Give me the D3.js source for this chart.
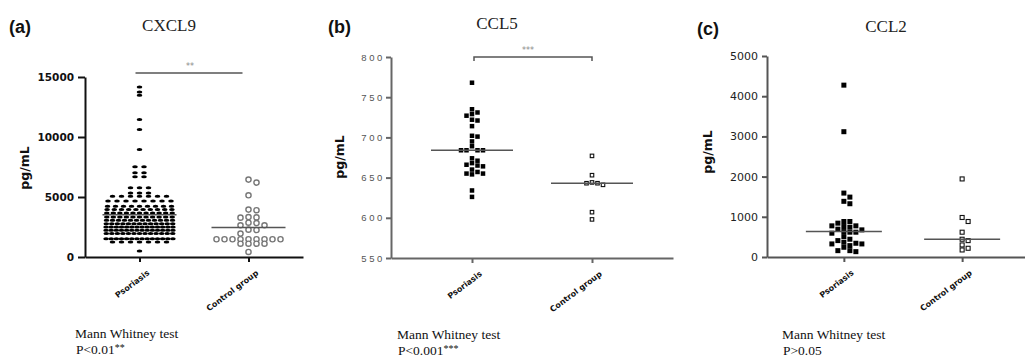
<!DOCTYPE html>
<html>
<head>
<meta charset="utf-8">
<script src="https://cdn.jsdelivr.net/npm/d3@7"></script>
<style>
  body { margin: 0; background: #fff; }
  svg { display: block; }
</style>
</head>
<body>
<script>
var groups = ['Psoriasis', 'Control group'];

// CXCL9 (pg/mL)
var cxcl9Psoriasis = [
  14170, 13750, 13475, 11450, 10620, 8950,
  7530, 7530, 7020, 7020, 6680, 6680,
  5780, 5780, 5780,
  5330, 5330, 5330,
  5060, 5060, 5060, 5060, 5060, 5060, 5060,
  4670, 4670, 4670, 4670, 4670, 4670, 4670, 4670,
  4225, 4225, 4225, 4225, 4225, 4225, 4225, 4225, 4225,
  3950, 3950, 3950, 3950, 3950, 3950, 3950, 3950, 3950, 3950,
  3670, 3670, 3670, 3670, 3670, 3670, 3670, 3670, 3670, 3670, 3670,
  3330, 3330, 3330, 3330, 3330, 3330, 3330, 3330, 3330, 3330, 3330,
  3060, 3060, 3060, 3060, 3060, 3060, 3060, 3060, 3060, 3060, 3060, 3060,
  2780, 2780, 2780, 2780, 2780, 2780, 2780, 2780, 2780, 2780, 2780, 2780, 2780,
  2500, 2500, 2500, 2500, 2500, 2500, 2500, 2500, 2500, 2500, 2500, 2500, 2500, 2500,
  2225, 2225, 2225, 2225, 2225, 2225, 2225, 2225, 2225, 2225, 2225, 2225, 2225, 2225,
  1950, 1950, 1950, 1950, 1950, 1950, 1950, 1950, 1950, 1950, 1950, 1950, 1950,
  1530, 1530, 1530, 1530, 1530, 1530, 1530, 1530, 1530, 1530, 1530, 1530, 1530, 1530,
  1250, 1250, 1250, 1250, 1250, 1250, 1250,
  500
];
var cxcl9Control = [6450, 6200, 5140, 3950, 3900, 3330, 3300, 3280, 2860, 2830, 2640, 2640,
  2280, 2250, 1950, 1480, 1480, 1480, 1480, 1480, 1480, 1480, 1480, 1480,
  1110, 1110, 1110, 1110, 420];
var cxcl9Ticks = [0, 5000, 10000, 15000];

// CCL5 (pg/mL)
var ccl5Psoriasis = [768, 735, 731, 729, 727, 722, 721, 714, 702, 701, 695, 689, 684, 684, 684, 684,
  674, 671, 668, 666, 665, 664, 660, 657, 655, 655, 654, 634, 626];
var ccl5Control = [677, 653, 644, 643, 643, 641, 607, 598];
var ccl5Ticks = [550, 600, 650, 700, 750, 800];

// CCL2 (pg/mL)
var ccl2Psoriasis = [4275, 3117, 1590, 1490, 1385, 1325, 883, 883, 842, 775, 775, 758, 742, 692, 675,
  633, 617, 617, 592, 508, 442, 408, 367, 342, 325, 325, 283, 242, 158, 158, 133];
var ccl2Control = [1942, 983, 883, 617, 442, 408, 300, 217, 175];
var ccl2Ticks = [0, 1000, 2000, 3000, 4000, 5000];

var svg = d3.select('body').append('svg')
  .attr('width', 1025)
  .attr('height', 358);

svg.append('rect').attr('width', 1025).attr('height', 358).attr('fill', '#fff');

// GraphPad style rows: equal values share a row, spacing shrinks when the row is crowded
function rowLayout(vals, y, maxSp, maxW) {
  var out = [];
  d3.groups(vals, function(v) { return v; }).forEach(function(r) {
    var n = r[1].length, sp = Math.min(maxSp, maxW / n);
    r[1].forEach(function(v, i) {
      out.push({ v: v, y: y(v), x: (i - (n - 1) / 2) * sp });
    });
  });
  return out;
}

// simple dodge on a grid of w px, top to bottom
function dodge(vals, y, w, h) {
  var pts = vals.map(function(v) { return { v: v, y: y(v), x: 0 }; })
    .sort(function(a, b) { return a.y - b.y; });
  var done = [];
  pts.forEach(function(p) {
    var near = done.filter(function(q) { return Math.abs(q.y - p.y) < h; });
    var x = 0;
    for (var i = 0; i < 40; i++) {
      x = (i % 2 ? 1 : -1) * Math.ceil(i / 2) * w;
      if (near.every(function(q) { return Math.abs(q.x - x) >= w - 0.01; })) break;
    }
    p.x = x;
    done.push(p);
  });
  return done;
}

function panel(o) {
  var g = svg.append('g');

  var y = d3.scaleLinear().domain(o.domain).range([o.yBot, o.yTop]);
  var x = d3.scalePoint().domain(groups).range([o.x0, o.x1]).padding(o.pad);

  // letter + title
  g.append('text')
    .attr('x', o.letterX).attr('y', o.letterY)
    .style('font', 'bold 18px "Liberation Sans", Arial, sans-serif')
    .attr('fill', '#111')
    .text(o.letter);
  g.append('text')
    .attr('x', o.titleX).attr('y', o.titleY)
    .attr('text-anchor', 'middle')
    .style('font', '17px "Liberation Serif", "Times New Roman", serif')
    .attr('fill', '#222')
    .text(o.title);

  // y axis
  var ya = g.append('g')
    .attr('transform', 'translate(' + o.x0 + ',0)')
    .call(d3.axisLeft(y).tickValues(o.ticks).tickFormat(d3.format('d'))
      .tickSize(o.tickLen).tickPadding(o.tickPad).tickSizeOuter(0));
  ya.selectAll('path, line').attr('stroke', o.axisColor).attr('stroke-width', 2);
  ya.selectAll('text')
    .attr('fill', o.tickColor)
    .style('font', o.tickFont)
    .style('letter-spacing', o.tickSpacing || null);

  g.append('text')
    .attr('transform', 'translate(' + o.ylabX + ',' + o.ylabY + ') rotate(-90)')
    .attr('text-anchor', 'middle')
    .style('font', 'bold 12.5px "DejaVu Sans", sans-serif')
    .attr('fill', '#111')
    .text('pg/mL');

  // x axis
  var xa = g.append('g')
    .attr('transform', 'translate(0,' + o.yBot + ')')
    .call(d3.axisBottom(x).tickSize(5).tickSizeOuter(0));
  xa.selectAll('path, line').attr('stroke', o.axisColor).attr('stroke-width', 2);
  xa.selectAll('text')
    .attr('x', 0).attr('y', 0).attr('dy', 0)
    .attr('text-anchor', 'end')
    .attr('transform', 'translate(10,17) rotate(-37)')
    .attr('fill', '#111')
    .style('font', 'bold 8px "DejaVu Sans", sans-serif');

  // points
  var ps = o.psorLayout(o.psor, y);
  var cs = o.ctrlLayout(o.ctrl, y);
  var cx0 = x(groups[0]), cx1 = x(groups[1]);

  if (o.shape === 'dot') {
    g.append('g').selectAll('ellipse').data(ps).enter().append('ellipse')
      .attr('cx', function(d) { return cx0 + d.x; })
      .attr('cy', function(d) { return d.y; })
      .attr('rx', 2.8).attr('ry', 1.5)
      .attr('fill', '#000');
    g.append('g').selectAll('circle').data(cs).enter().append('circle')
      .attr('cx', function(d) { return cx1 + d.x; })
      .attr('cy', function(d) { return d.y; })
      .attr('r', 2.6)
      .attr('fill', '#fff').attr('stroke', '#777').attr('stroke-width', 1.4);
  } else {
    var s = o.size;
    g.append('g').selectAll('rect').data(ps).enter().append('rect')
      .attr('x', function(d) { return cx0 + d.x - s / 2; })
      .attr('y', function(d) { return d.y - s / 2; })
      .attr('width', s).attr('height', s)
      .attr('fill', '#000');
    g.append('g').selectAll('rect').data(cs).enter().append('rect')
      .attr('x', function(d) { return cx1 + d.x - (s - 1) / 2; })
      .attr('y', function(d) { return d.y - (s - 1) / 2; })
      .attr('width', s - 1).attr('height', s - 1)
      .attr('fill', '#fff').attr('stroke', '#111').attr('stroke-width', 1.1);
  }

  // centre lines
  var stat = o.center === 'mean' ? d3.mean : d3.median;
  [[cx0, o.psor], [cx1, o.ctrl]].forEach(function(c) {
    g.append('line')
      .attr('x1', c[0] - o.lineHalf).attr('x2', c[0] + o.lineHalf)
      .attr('y1', y(stat(c[1]))).attr('y2', y(stat(c[1])))
      .attr('stroke', '#555').attr('stroke-width', 1.5);
  });

  // significance
  if (o.stars) {
    var sy = o.sigY;
    var path = o.bracket
      ? 'M' + (cx0 + 2) + ',' + (sy + 4) + 'V' + sy + 'H' + cx1 + 'V' + (sy + 4)
      : 'M' + (cx0 - 4) + ',' + sy + 'H' + (cx1 - 6);
    g.append('path').attr('d', path).attr('fill', 'none')
      .attr('stroke', '#555').attr('stroke-width', 1.5);
    g.append('text')
      .attr('x', (cx0 + cx1) / 2 - 4).attr('y', sy - 4)
      .attr('text-anchor', 'middle')
      .style('font', '8px "DejaVu Sans", sans-serif')
      .attr('fill', '#888')
      .text(o.stars);
  }

  // test note
  var note = g.append('g').style('font', '13.5px "Liberation Serif", "Times New Roman", serif').attr('fill', '#111');
  note.append('text').attr('x', o.noteX).attr('y', o.noteY).text('Mann Whitney test');
  var p = note.append('text').attr('x', o.noteX + 1).attr('y', o.noteY + 16);
  p.append('tspan').text(o.pText);
  if (o.pStars) p.append('tspan').attr('dy', -3).style('font-size', '10px').text(o.pStars);
}

panel({
  letter: '(a)', letterX: 9, letterY: 33,
  title: 'CXCL9', titleX: 169, titleY: 31,
  x0: 85, x1: 303, pad: 0.5, yTop: 77, yBot: 257,
  domain: [0, 15000], ticks: cxcl9Ticks,
  tickLen: 7, tickPad: 4, axisColor: '#111', tickColor: '#111',
  tickFont: 'bold 10.5px "DejaVu Sans", sans-serif',
  ylabX: 29, ylabY: 168,
  psor: cxcl9Psoriasis, ctrl: cxcl9Control, shape: 'dot',
  psorLayout: function(v, y) { return rowLayout(v, y, 9, 72); },
  ctrlLayout: function(v, y) { return dodge(v, y, 8, 4); },
  center: 'mean', lineHalf: 37,
  stars: '**', sigY: 73, bracket: false,
  noteX: 75, noteY: 338, pText: 'P<0.01', pStars: '**'
});

panel({
  letter: '(b)', letterX: 328, letterY: 33,
  title: 'CCL5', titleX: 497, titleY: 29,
  x0: 391, x1: 673, pad: 0.675, yTop: 57, yBot: 258,
  domain: [550, 800], ticks: ccl5Ticks,
  tickLen: 5, tickPad: 1, axisColor: '#666', tickColor: '#555',
  tickFont: '9.5px "Liberation Sans", Arial, sans-serif', tickSpacing: '2.6px',
  ylabX: 344, ylabY: 157,
  psor: ccl5Psoriasis, ctrl: ccl5Control, shape: 'square', size: 4.5,
  psorLayout: function(v, y) { return dodge(v, y, 5.5, 4.5); },
  ctrlLayout: function(v, y) { return dodge(v, y, 5.5, 4.5); },
  center: 'median', lineHalf: 41,
  stars: '***', sigY: 57, bracket: true,
  noteX: 397, noteY: 339, pText: 'P<0.001', pStars: '***'
});

panel({
  letter: '(c)', letterX: 697, letterY: 35,
  title: 'CCL2', titleX: 886, titleY: 32,
  x0: 767, x1: 1039, pad: 0.65, yTop: 56, yBot: 257,
  domain: [0, 5000], ticks: ccl2Ticks,
  tickLen: 5, tickPad: 4, axisColor: '#555', tickColor: '#222',
  tickFont: '11px "DejaVu Sans", sans-serif',
  ylabX: 712, ylabY: 152,
  psor: ccl2Psoriasis, ctrl: ccl2Control, shape: 'square', size: 5,
  psorLayout: function(v, y) { return dodge(v, y, 6, 5); },
  ctrlLayout: function(v, y) { return dodge(v, y, 6, 5); },
  center: 'median', lineHalf: 38,
  stars: null,
  noteX: 782, noteY: 339, pText: 'P>0.05', pStars: null
});
</script>
</body>
</html>
